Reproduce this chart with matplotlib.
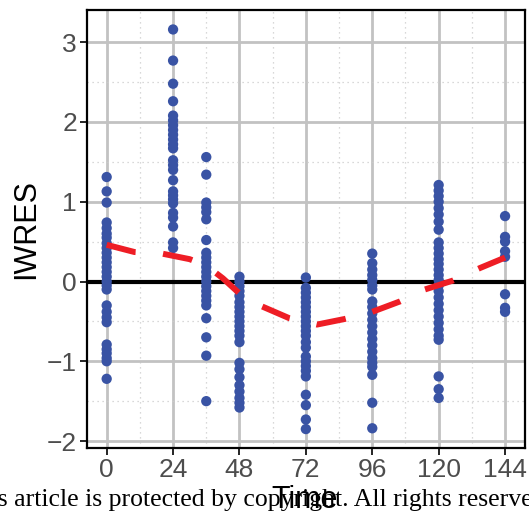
import matplotlib
matplotlib.use("Agg")
import matplotlib.pyplot as plt
from matplotlib.ticker import MultipleLocator
import numpy as np

# individual weighted residuals by sampling time (h)
times = [0, 24, 36, 48, 72, 96, 120, 144]
iwres = {
    0: [1.31, 1.13, 0.99, 0.74, 0.67, 0.60, 0.55, 0.48, 0.42, 0.36, 0.30, 0.24,
        0.18, 0.12, 0.06, 0.00, -0.05, -0.10, -0.30, -0.38, -0.45, -0.51, -0.79,
        -0.85, -0.90, -0.96, -1.00, -1.22],
    24: [3.16, 2.77, 2.48, 2.26, 2.08, 2.02, 1.96, 1.90, 1.84, 1.78, 1.72, 1.67,
         1.52, 1.46, 1.40, 1.27, 1.13, 1.08, 1.03, 0.98, 0.86, 0.80, 0.69, 0.49, 0.42],
    36: [1.56, 1.34, 0.99, 0.93, 0.87, 0.78, 0.52, 0.36, 0.30, 0.24, 0.18, 0.12,
         0.06, 0.00, -0.06, -0.12, -0.18, -0.24, -0.30, -0.46, -0.70, -0.93, -1.50],
    48: [0.06, 0.00, -0.06, -0.12, -0.18, -0.26, -0.32, -0.38, -0.44, -0.50, -0.56,
         -0.62, -0.68, -0.76, -1.02, -1.10, -1.20, -1.30, -1.38, -1.46, -1.52, -1.58],
    72: [0.05, -0.08, -0.14, -0.20, -0.26, -0.32, -0.38, -0.44, -0.50, -0.56, -0.62,
         -0.68, -0.76, -0.83, -0.94, -1.00, -1.06, -1.12, -1.19, -1.42, -1.55, -1.73, -1.85],
    96: [0.35, 0.23, 0.15, 0.08, 0.02, -0.05, -0.10, -0.25, -0.32, -0.40, -0.48,
         -0.56, -0.64, -0.72, -0.80, -0.88, -0.96, -1.02, -1.07, -1.17, -1.52, -1.84],
    120: [1.21, 1.14, 1.07, 1.00, 0.92, 0.84, 0.75, 0.65, 0.49, 0.42, 0.35, 0.28,
          0.22, 0.15, 0.08, 0.02, -0.05, -0.12, -0.20, -0.28, -0.36, -0.44, -0.52,
          -0.60, -0.68, -0.73, -1.19, -1.35, -1.46],
    144: [0.82, 0.56, 0.50, 0.38, 0.31, -0.16, -0.33, -0.38],
}

# smoothed trend
smooth_t = [0, 10, 20, 30, 36, 42, 48, 56, 66, 76, 86, 96, 106, 115, 125, 135, 144]
smooth_y = [0.46, 0.37, 0.35, 0.28, 0.20, 0.04, -0.15, -0.31, -0.46, -0.54, -0.47,
            -0.38, -0.25, -0.10, 0.01, 0.17, 0.30]

fig = plt.figure(figsize=(5.29, 5.14), dpi=100)
ax = fig.add_axes([0.164, 0.128, 0.8284, 0.8527])

xs = np.concatenate([[t] * len(iwres[t]) for t in times])
ys = np.concatenate([iwres[t] for t in times])
ax.scatter(xs, ys, s=55, color="#3953A4", edgecolors="none", zorder=3)
ax.plot(smooth_t, smooth_y, color="#EE1D25", lw=4.3, dashes=(5.0, 4.6),
        solid_capstyle="butt", dash_capstyle="butt", zorder=4)
ax.axhline(0, color="black", lw=3, zorder=2)

ax.set_xlim(-7.2, 151.2)
ax.set_ylim(-2.09, 3.405)
ax.xaxis.set_major_locator(MultipleLocator(24))
ax.xaxis.set_minor_locator(MultipleLocator(12))
ax.yaxis.set_major_locator(MultipleLocator(1))
ax.yaxis.set_minor_locator(MultipleLocator(0.5))

ax.grid(which="major", color="#C2C2C2", lw=2.0, zorder=0)
ax.grid(which="minor", color="#CCCCCC", lw=0.9, ls=(0, (1, 3)), zorder=0)
ax.set_axisbelow(True)
for sp in ax.spines.values():
    sp.set_linewidth(1.6)
    sp.set_color("black")

ax.tick_params(which="major", length=5, width=1.2, color="black",
               labelsize=19, labelcolor="#4D4D4D", pad=2)
ax.tick_params(which="minor", length=0)
ax.set_yticks([-2, -1, 0, 1, 2, 3])
ax.set_yticklabels(["\u22122", "\u22121", "0", "1", "2", "3"])
for lab in ax.get_xticklabels() + ax.get_yticklabels():
    lab.set_family("Liberation Sans")

ax.set_ylabel("IWRES", fontsize=22, family="Liberation Sans", labelpad=4)
fig.text(0.575, 0.027, "Time", fontsize=22, family="Liberation Sans",
         ha="center", va="center")
fig.text(-0.072, 0.028, "This article is protected by copyright. All rights reserved.",
         fontsize=18.5, family="Liberation Serif", ha="left", va="center")

fig.savefig("out.png", dpi=100)
